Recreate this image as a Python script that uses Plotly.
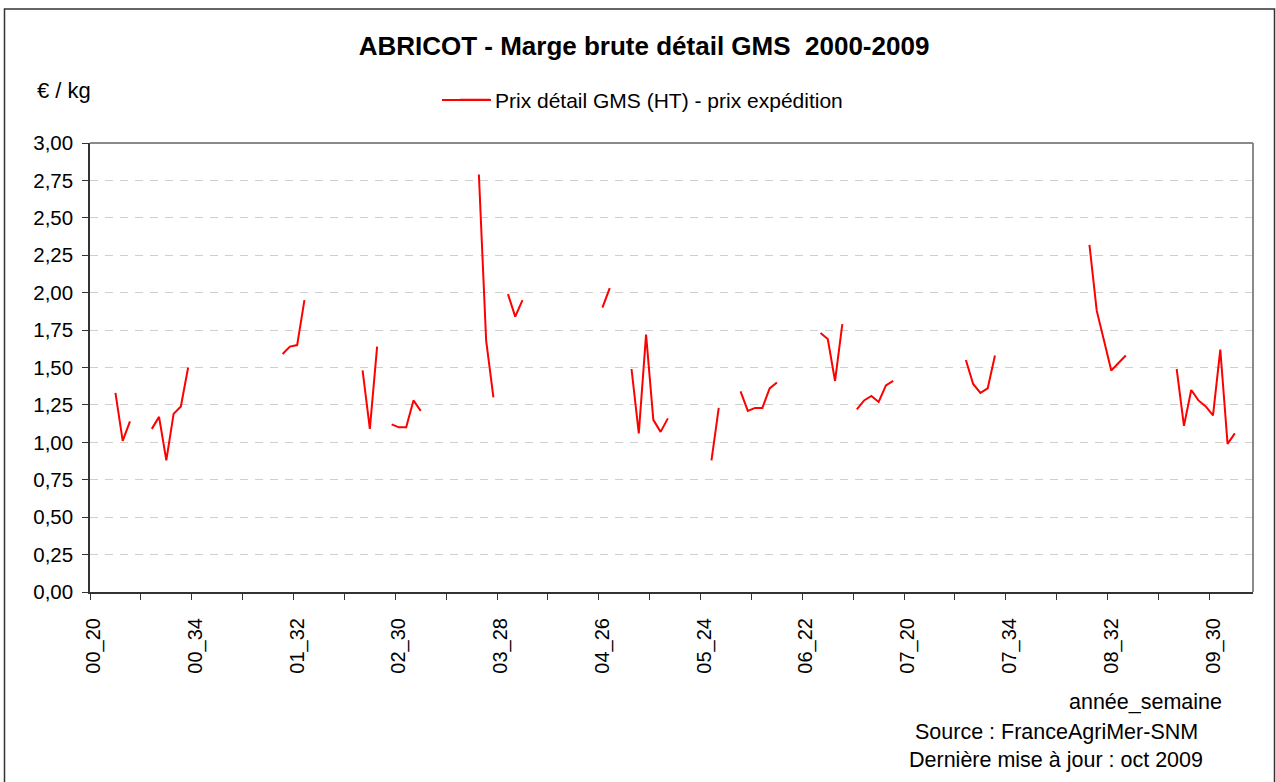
import plotly.graph_objects as go

# ---- data -------------------------------------------------------------
years = ["00", "01", "02", "03", "04", "05", "06", "07", "08", "09"]
weeks = list(range(20, 36))  # season weeks 20..35 each year

N = None
v2000 = [N, N, N, 1.33, 1.01, 1.14, N, N, 1.09, 1.17, 0.88, 1.19, 1.24, 1.50, N, N]
v2001 = [N, N, N, N, N, N, N, N, N, N, 1.59, 1.64, 1.65, 1.95, N, N]
v2002 = [N, N, N, N, N, 1.48, 1.09, 1.64, N, 1.12, 1.10, 1.10, 1.28, 1.21, N, N]
v2003 = [N, N, N, N, N, 2.79, 1.68, 1.30, N, 1.99, 1.84, 1.95, N, N, N, N]
v2004 = [N, N, N, N, N, N, 1.90, 2.03, N, N, 1.49, 1.06, 1.72, 1.15, 1.07, 1.16]
v2005 = [N, N, N, N, N, 0.88, 1.23, N, N, 1.34, 1.21, 1.23, 1.23, 1.36, 1.40, N]
v2006 = [N, N, N, N, 1.73, 1.69, 1.41, 1.79, N, 1.22, 1.28, 1.31, 1.27, 1.38, 1.41, N]
v2007 = [N, N, N, N, N, N, N, N, 1.55, 1.39, 1.33, 1.36, 1.58, N, N, N]
v2008 = [N, N, N, N, N, N, N, N, N, 2.32, 1.88, 1.68, 1.48, 1.53, 1.58, N]
v2009 = [N, N, N, N, N, 1.49, 1.11, 1.35, 1.28, 1.24, 1.18, 1.62, 0.99, 1.06, N, N]

tick_labels = ["00_20", "00_34", "01_32", "02_30", "03_28", "04_26",
               "05_24", "06_22", "07_20", "07_34", "08_32", "09_30"]

series_name = "Prix détail GMS (HT) - prix expédition"

# ---- build ------------------------------------------------------------
yearly = [v2000, v2001, v2002, v2003, v2004, v2005, v2006, v2007, v2008, v2009]
categories = [f"{y}_{w:02d}" for y in years for w in weeks]
values = [v for arr in yearly for v in arr]
xpos = list(range(len(categories)))
tick_pos = [categories.index(t) for t in tick_labels]

FONT = "Liberation Sans, Arial, sans-serif"
RED = "#FF0000"

fig = go.Figure()
fig.add_trace(go.Scatter(
    x=xpos, y=values, mode="lines", name=series_name,
    line=dict(color=RED, width=2), connectgaps=False,
    showlegend=True,
))

W, H = 1276, 782
L, R, T, B = 90, 23, 143, 190
pw = W - L - R
ph = H - T - B

def px(xp):
    return (xp - L) / pw

def py(yp):
    return (H - B - yp) / ph

fig.update_layout(
    width=W, height=H,
    margin=dict(l=L, r=R, t=T, b=B, pad=0),
    paper_bgcolor="white", plot_bgcolor="white",
    font=dict(family=FONT, size=21, color="black"),
    separators=", ",
    title=dict(text="ABRICOT - Marge brute détail GMS\u00a0\u00a02000-2009",
               font=dict(family=FONT, size=26, color="black", weight="bold"),
               x=644 / W, xanchor="center", xref="container",
               y=1 - 46 / H, yanchor="middle", yref="container"),
    showlegend=True,
    legend=dict(orientation="h", x=px(455), xanchor="left",
                y=py(100), yanchor="middle",
                bgcolor="rgba(0,0,0,0)", borderwidth=0,
                font=dict(family=FONT, size=21, color="black")),
    xaxis=dict(
        range=[-0.5, len(categories) - 0.5],
        tickmode="array", tickvals=tick_pos, ticktext=tick_labels,
        tickangle=-90, ticks="outside", ticklen=16,
        tickcolor="rgba(0,0,0,0)",
        showgrid=False, zeroline=False,
        showline=True, linecolor="#333333", linewidth=2,
        tickfont=dict(family=FONT, size=20, color="black"),
        minor=dict(tickmode="linear", tick0=-0.5, dtick=7,
                   ticks="outside", ticklen=6, tickcolor="#333333",
                   tickwidth=1, showgrid=False),
    ),
    yaxis=dict(
        range=[0, 3], tickmode="linear", tick0=0, dtick=0.25,
        tickformat=".2f",
        ticks="outside", ticklen=6, tickcolor="#333333",
        showgrid=True, gridcolor="#cfcfcf", gridwidth=1,
        griddash="8px,7px",
        zeroline=False,
        showline=True, linecolor="#333333", linewidth=1.5,
        ticklabelstandoff=5,
        tickfont=dict(family=FONT, size=20.5, color="black"),
    ),
)

shapes = [
    # plot area top and right border (grey)
    dict(type="line", xref="paper", yref="paper", x0=0, x1=1, y0=1, y1=1,
         line=dict(color="#8a8a8a", width=2)),
    dict(type="line", xref="paper", yref="paper", x0=1, x1=1, y0=0, y1=1,
         line=dict(color="#8a8a8a", width=2)),
    # outer chart frame
    dict(type="rect", xref="paper", yref="paper",
         x0=px(4.5), x1=px(1274.5), y0=py(800), y1=py(9),
         line=dict(color="#333333", width=1.5), fillcolor="rgba(0,0,0,0)"),
    # longer legend key line (Excel style)
    dict(type="line", xref="paper", yref="paper",
         x0=px(442), x1=px(491), y0=py(100), y1=py(100),
         line=dict(color=RED, width=2)),
]
fig.update_layout(shapes=shapes)

annots = [
    dict(text="€ / kg", x=px(35), xanchor="left", y=py(90), yanchor="middle", size=22),
    dict(text="année_semaine", x=px(1224), xanchor="right", y=py(702), yanchor="middle", size=21.5),
    dict(text="Source : FranceAgriMer-SNM", x=px(1056), xanchor="center", y=py(732), yanchor="middle", size=21.5),
    dict(text="Dernière mise à jour : oct 2009", x=px(1056), xanchor="center", y=py(760), yanchor="middle", size=21.5),
]
for a in annots:
    sz = a.pop("size")
    fig.add_annotation(xref="paper", yref="paper", showarrow=False,
                       font=dict(family=FONT, size=sz, color="black"), **a)

fig.write_html("out.html",
               config={"displayModeBar": False},
               post_script="document.body.style.margin='0';document.body.style.overflow='hidden';")
